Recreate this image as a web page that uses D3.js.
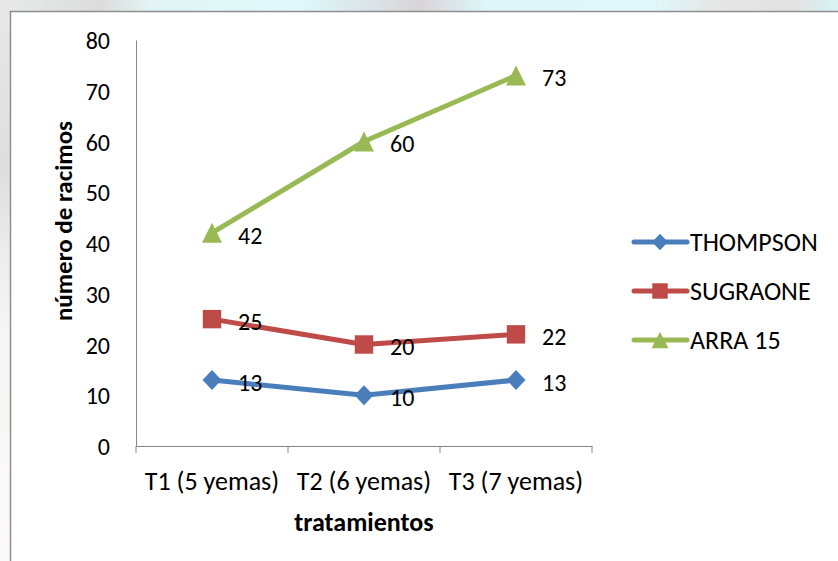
<!DOCTYPE html>
<html>
<head>
<meta charset="utf-8">
<script src="https://cdn.jsdelivr.net/npm/d3@7"></script>
<style>
  html, body { margin: 0; padding: 0; background: #ffffff; }
  svg { display: block; }
  text { font-family: Carlito, Calibri, Lato, "Open Sans", sans-serif; fill: #000; }
</style>
</head>
<body>
<svg id="chart" width="838" height="561"></svg>
<script>
// Treatments on the category axis
const categories = ["T1 (5 yemas)", "T2 (6 yemas)", "T3 (7 yemas)"];
// Number of bunches per variety
const thompson = [13, 10, 13];
const sugraone = [25, 20, 22];
const arra15 = [42, 60, 73];
const seriesNames = ["THOMPSON", "SUGRAONE", "ARRA 15"];
const yTicks = [0, 10, 20, 30, 40, 50, 60, 70, 80];
const yTitle = "número de racimos";
const xTitle = "tratamientos";

const svg = d3.select("#chart");
const W = 838, H = 561;

// Backdrop outside the chart frame
const defs = svg.append("defs");
const g1 = defs.append("linearGradient").attr("id", "topStrip").attr("x1", 0).attr("x2", 1).attr("y1", 0).attr("y2", 0);
[[0, "#e9eaea"], [0.12, "#dcdcdc"], [0.18, "#e3f4f5"], [0.36, "#dff8fa"], [0.5, "#d9d4d8"], [0.58, "#def6f8"], [0.78, "#dff7f9"], [0.86, "#e6e6e6"], [0.95, "#e3e3e3"], [1, "#d8f3f3"]]
  .forEach(([o, c]) => g1.append("stop").attr("offset", o).attr("stop-color", c));
const g2 = defs.append("linearGradient").attr("id", "leftStrip").attr("x1", 0).attr("x2", 0).attr("y1", 0).attr("y2", 1);
[[0, "#e8e8e8"], [0.3, "#dedede"], [0.45, "#ececec"], [0.6, "#f6f6f6"], [1, "#fbfaf8"]]
  .forEach(([o, c]) => g2.append("stop").attr("offset", o).attr("stop-color", c));

svg.append("rect").attr("x", 0).attr("y", 0).attr("width", W).attr("height", 12).attr("fill", "url(#topStrip)");
svg.append("rect").attr("x", 0).attr("y", 0).attr("width", 11).attr("height", H).attr("fill", "url(#leftStrip)");

// Chart area with its border
svg.append("rect")
  .attr("x", 10.5).attr("y", 11.5)
  .attr("width", W + 20).attr("height", H + 20)
  .attr("fill", "#ffffff")
  .attr("stroke", "#8e8e8e").attr("stroke-width", 1.5);

const plot = { left: 136, right: 592, top: 40, bottom: 446 };

const x = d3.scaleBand().domain(categories).range([plot.left, plot.right]).paddingInner(0).paddingOuter(0);
const y = d3.scaleLinear().domain([0, 80]).range([plot.bottom, plot.top]);
const cx = d => x(d) + x.bandwidth() / 2;

const axisColor = "#868686";
const numSize = 24;   // numerals
const textSize = 26;  // words

// Value axis
const yAxis = svg.append("g")
  .attr("transform", `translate(${plot.left},0)`)
  .call(d3.axisLeft(y).tickValues(yTicks).tickSize(0).tickPadding(26).tickFormat(d3.format("d")));
yAxis.select(".domain").attr("stroke", axisColor).attr("stroke-width", 1);
yAxis.selectAll("text").attr("font-size", numSize).attr("fill", "#000").attr("dy", "0.36em");

// Category axis
const xAxis = svg.append("g")
  .attr("transform", `translate(0,${plot.bottom})`)
  .call(d3.axisBottom(x).tickSize(0));
xAxis.select(".domain").attr("stroke", axisColor).attr("stroke-width", 1);
xAxis.selectAll("text").attr("font-size", textSize).attr("fill", "#000").attr("y", 44).attr("dy", 0);
// Tick marks on the category boundaries
xAxis.selectAll(".bound")
  .data([plot.left, ...categories.map(c => x(c) + x.bandwidth())])
  .join("line").attr("class", "bound")
  .attr("x1", d => d).attr("x2", d => d)
  .attr("y1", 0).attr("y2", 7)
  .attr("stroke", axisColor).attr("stroke-width", 1);

// Axis titles
svg.append("text")
  .attr("transform", `translate(72,221) rotate(-90)`)
  .attr("text-anchor", "middle")
  .attr("font-size", 25).attr("font-weight", "bold")
  .text(yTitle);
svg.append("text")
  .attr("x", (plot.left + plot.right) / 2).attr("y", 531)
  .attr("text-anchor", "middle")
  .attr("font-size", 26).attr("font-weight", "bold")
  .text(xTitle);

// Marker shapes
const diamond = { draw(ctx, size) { const r = Math.sqrt(size) / 2; ctx.moveTo(0, -r); ctx.lineTo(r * 0.95, 0); ctx.lineTo(0, r); ctx.lineTo(-r * 0.95, 0); ctx.closePath(); } };
const square = { draw(ctx, size) { const r = Math.sqrt(size) / 2; ctx.rect(-r, -r, 2 * r, 2 * r); } };
const triangle = { draw(ctx, size) { const r = Math.sqrt(size) / 2; ctx.moveTo(0, -r); ctx.lineTo(r, r); ctx.lineTo(-r, r); ctx.closePath(); } };

const series = [
  { name: seriesNames[0], values: thompson, color: "#4a7ebb", shape: diamond, size: 400 },
  { name: seriesNames[1], values: sugraone, color: "#be4b48", shape: square, size: 340 },
  { name: seriesNames[2], values: arra15, color: "#98b954", shape: triangle, size: 400 }
];

const line = d3.line().x((d, i) => cx(categories[i])).y(d => y(d));

series.forEach(s => {
  const g = svg.append("g");
  g.append("path")
    .attr("d", line(s.values))
    .attr("fill", "none").attr("stroke", s.color)
    .attr("stroke-width", 5).attr("stroke-linejoin", "round").attr("stroke-linecap", "round");
  g.selectAll("path.mk").data(s.values).join("path").attr("class", "mk")
    .attr("transform", (d, i) => `translate(${cx(categories[i])},${y(d)})`)
    .attr("d", d3.symbol().type(s.shape).size(s.size))
    .attr("fill", s.color);
  g.selectAll("text").data(s.values).join("text")
    .attr("x", (d, i) => cx(categories[i]) + 26)
    .attr("y", d => y(d))
    .attr("dy", "0.45em")
    .attr("font-size", numSize)
    .text(d => d);
});

// Legend
const legend = svg.append("g").attr("transform", "translate(632,0)");
const rowY = [242, 291, 340];
series.forEach((s, i) => {
  const r = legend.append("g").attr("transform", `translate(0,${rowY[i]})`);
  r.append("line").attr("x1", 2).attr("x2", 55).attr("y1", 0).attr("y2", 0)
    .attr("stroke", s.color).attr("stroke-width", 5).attr("stroke-linecap", "round");
  r.append("path").attr("transform", "translate(28,0)")
    .attr("d", d3.symbol().type(s.shape).size(s.size * 0.7))
    .attr("fill", s.color);
  r.append("text").attr("x", 58).attr("y", 0).attr("dy", "0.36em")
    .attr("font-size", textSize).text(s.name);
});
</script>
</body>
</html>
